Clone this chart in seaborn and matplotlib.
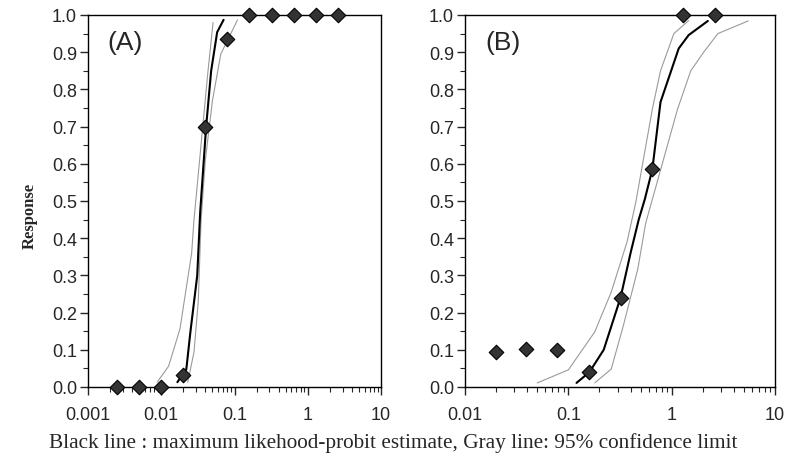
import matplotlib
matplotlib.use("Agg")
import matplotlib.pyplot as plt
import matplotlib.ticker as mticker
import seaborn as sns
import pandas as pd

sns.set_style("ticks")
plt.rcParams['font.family'] = ['Liberation Sans', 'DejaVu Sans']

# Panel A: observed responses
dose_a = [0.0025, 0.005, 0.01, 0.02, 0.04, 0.08, 0.16, 0.32, 0.64, 1.28, 2.56]
resp_a = [0.0, 0.0, 0.0, 0.033, 0.70, 0.935, 1.0, 1.0, 1.0, 1.0, 1.0]
# Panel A: probit fit and 95% limits
fit_a_x = [0.0166, 0.022, 0.025, 0.031, 0.034, 0.041, 0.048, 0.058, 0.071]
fit_a_y = [0.013, 0.048, 0.148, 0.30, 0.47, 0.70, 0.85, 0.954, 0.987]
lo_a_x = [0.0088, 0.0126, 0.018, 0.026, 0.028, 0.043, 0.051]
lo_a_y = [0.013, 0.056, 0.156, 0.36, 0.45, 0.84, 0.98]
hi_a_x = [0.023, 0.028, 0.032, 0.035, 0.040, 0.050, 0.065, 0.11]
hi_a_y = [0.013, 0.094, 0.23, 0.45, 0.61, 0.77, 0.895, 0.987]

# Panel B: observed responses
dose_b = [0.02, 0.039, 0.078, 0.16, 0.32, 0.65, 1.28, 2.6]
resp_b = [0.095, 0.103, 0.099, 0.04, 0.24, 0.585, 1.0, 1.0]
# Panel B: probit fit and 95% limits
fit_b_x = [0.12, 0.16, 0.22, 0.32, 0.40, 0.48, 0.55, 0.65, 0.78, 0.98, 1.17, 1.46, 2.24]
fit_b_y = [0.011, 0.04, 0.10, 0.24, 0.36, 0.45, 0.505, 0.585, 0.766, 0.847, 0.91, 0.946, 0.984]
lo_b_x = [0.050, 0.10, 0.18, 0.26, 0.37, 0.45, 0.65, 0.78, 1.05, 1.46]
lo_b_y = [0.011, 0.046, 0.148, 0.255, 0.39, 0.497, 0.747, 0.85, 0.95, 0.985]
hi_b_x = [0.18, 0.26, 0.34, 0.47, 0.56, 1.14, 1.53, 2.04, 2.8, 5.5]
hi_b_y = [0.011, 0.048, 0.164, 0.317, 0.44, 0.747, 0.85, 0.90, 0.95, 0.984]

fig = plt.figure(figsize=(7.87, 4.6), dpi=100)
ax_a = fig.add_axes([88 / 787, 1 - 388 / 460, 293 / 787, 372 / 460])
ax_b = fig.add_axes([465 / 787, 1 - 388 / 460, 310 / 787, 372 / 460])


def draw_panel(ax, dose, resp, fit, lo, hi, xlim, label):
    for (xs, ys), col, lw in [(lo, '#9a9a9a', 0.8), (hi, '#9a9a9a', 0.8), (fit, 'black', 1.5)]:
        sns.lineplot(x=xs, y=ys, ax=ax, color=col, lw=lw, sort=False, estimator=None)
    sns.scatterplot(x=dose, y=resp, ax=ax, marker='D', s=55, color='#333333',
                    edgecolor='black', linewidth=0.8, clip_on=False, zorder=5)
    ax.set_xscale('log')
    ax.set_xlim(*xlim)
    ax.set_ylim(0, 1)
    ax.xaxis.set_major_locator(mticker.LogLocator(base=10))
    ax.xaxis.set_minor_locator(mticker.LogLocator(base=10, subs=range(2, 10)))
    ax.xaxis.set_major_formatter(mticker.FuncFormatter(lambda v, p: f"{v:g}"))
    ax.xaxis.set_minor_formatter(mticker.NullFormatter())
    ax.yaxis.set_major_locator(mticker.MultipleLocator(0.1))
    ax.yaxis.set_minor_locator(mticker.MultipleLocator(0.05))
    ax.yaxis.set_major_formatter(mticker.FormatStrFormatter('%.1f'))
    ax.tick_params(which='major', length=6, width=1, labelsize=13, direction='out')
    ax.tick_params(which='minor', length=3.5, width=0.8, direction='out')
    ax.tick_params(axis='y', pad=2)
    ax.tick_params(axis='x', pad=8)
    for sp in ax.spines.values():
        sp.set_visible(True)
        sp.set_linewidth(1.0)
        sp.set_color('black')
    ax.text(0.065, 0.96, label, transform=ax.transAxes, fontsize=19, va='top', ha='left')


draw_panel(ax_a, dose_a, resp_a, (fit_a_x, fit_a_y), (lo_a_x, lo_a_y), (hi_a_x, hi_a_y),
           (0.001, 10), '(A)')
draw_panel(ax_b, dose_b, resp_b, (fit_b_x, fit_b_y), (lo_b_x, lo_b_y), (hi_b_x, hi_b_y),
           (0.01, 10), '(B)')

fig.text(30 / 787, 1 - 216 / 460, 'Response', rotation=90, va='center', ha='center',
         fontsize=12, fontweight='bold', family=['Liberation Serif', 'DejaVu Serif'])
fig.text(393 / 787, 1 - 443 / 460,
         'Black line : maximum likehood-probit estimate, Gray line: 95% confidence limit',
         va='center', ha='center', fontsize=15.3, family=['Liberation Serif', 'DejaVu Serif'])

fig.savefig('out.png', dpi=100)
